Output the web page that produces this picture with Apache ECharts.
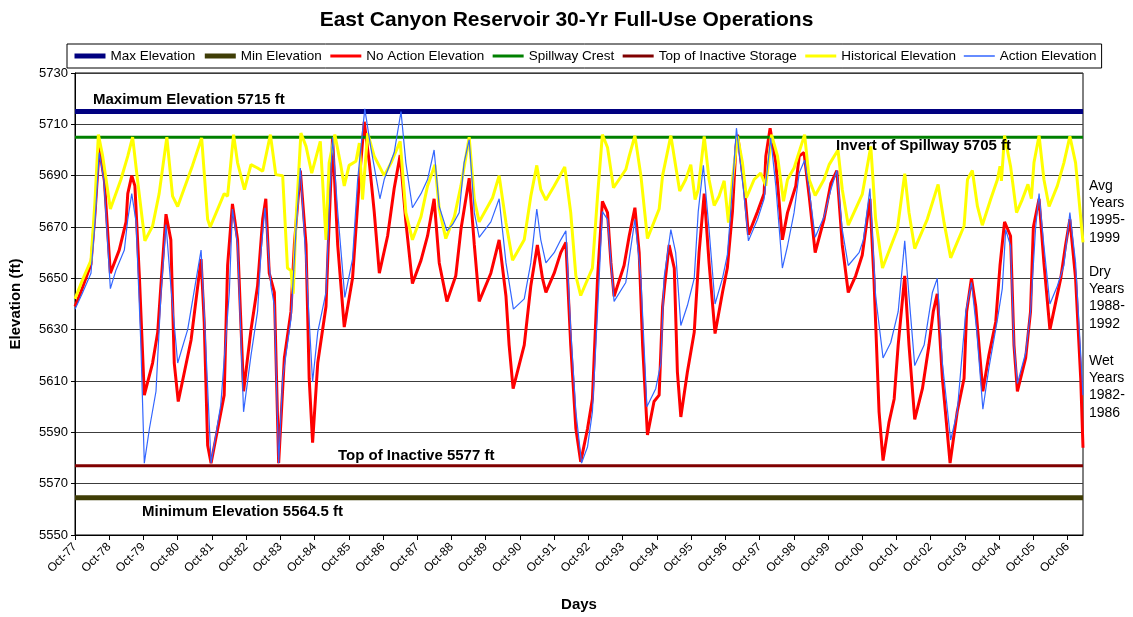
<!DOCTYPE html>
<html>
<head>
<meta charset="utf-8">
<script src="https://cdn.jsdelivr.net/npm/echarts@6/dist/echarts.min.js"></script>
<style>
  html, body { margin: 0; padding: 0; background: #fff; }
  #chart { width: 1133px; height: 617px; }
</style>
</head>
<body>
<div id="chart"></div>
<script>
// x values are months since Oct-77
const startYear = 77
const lastMonth = 353.4
const yearCount = 30

// reference levels (ft)
const maxElev = 5715
const minElev = 5564.5
const spillwayCrest = 5705
const inactiveTop = 5577

const noAction = [
  [0,5639],[2.5,5646],[5.6,5655.5],[7,5675],[8.5,5701],[10.3,5688],[12.4,5652],[15.5,5661],[17.9,5672],[18.5,5683],
  [19.9,5690],[21,5686],[22.6,5650],[24.3,5604.5],[27.2,5617],[29,5629],[30.1,5647],[31.9,5675],[33.6,5665],[34.8,5617],
  [36.2,5602],[40.7,5626],[44.2,5657.5],[45.3,5633],[46.5,5585],[47.7,5578],[52.3,5604.5],[53.5,5655],[55.2,5679],[57,5665],
  [59.1,5606],[61.7,5630],[64,5647],[65.8,5673],[66.9,5681],[68.1,5652],[69.9,5644.5],[71.4,5578],[73.4,5619],[75.7,5637],
  [76.9,5663],[79,5692],[81,5663],[82.1,5611],[83.3,5586],[85.1,5617],[88,5639],[88.8,5663],[90.3,5705],[92.1,5663],
  [94.4,5631],[97.3,5650],[99.7,5688.5],[101.4,5711],[103.2,5695],[104.9,5676],[106.7,5652],[109.6,5666.5],[111.9,5685],[114,5698],
  [116,5672],[118.3,5648],[121.3,5657],[123.6,5666.5],[125.9,5681],[127.7,5656],[130.4,5641],[133.5,5651],[135.3,5669],[138.2,5689],
  [140,5663],[141.7,5641],[145.8,5652],[148.7,5665],[151.1,5643],[152.2,5624],[153.6,5607],[157.5,5624],[159.8,5647],[162.1,5663],
  [163.9,5650],[165.1,5644.5],[168,5652],[170.3,5660],[172.1,5664],[173.8,5624],[175.6,5591.5],[177.3,5578.5],[179.7,5591.5],[181.4,5603],
  [183.2,5650],[184.9,5680],[186.7,5675.6],[187.9,5656],[189,5643],[192.5,5655],[194.3,5666.5],[196.3,5677.5],[197.8,5660],[199,5624],
  [200.7,5589],[203,5602],[204.8,5604.5],[206,5639],[206.8,5648],[208.3,5663],[210.1,5654],[211.2,5613.5],[212.4,5596],[214.7,5613.5],
  [217.1,5629],[218.8,5660],[220.6,5683],[222.3,5656],[224.4,5628.5],[227,5644.5],[228.7,5654],[230.5,5676],[231.7,5701],[232.3,5706],
  [234.6,5686],[236.1,5667],[239.3,5676],[241.6,5683],[242.2,5697.6],[243.7,5708.5],[245.7,5695],[248,5665],[249.8,5675.6],[252.7,5686],
  [253.9,5697.6],[255.6,5699],[257.4,5682],[259.5,5660],[262.6,5673],[265,5687],[267.1,5692],[269,5663],[271.1,5644.5],[273.7,5651],
  [276,5659],[278.7,5681],[280.1,5650],[281.9,5598],[283.3,5579],[285.4,5594],[287.2,5603],[288.6,5624],[290.9,5651],[292.4,5624],
  [294.4,5595],[297.1,5607],[299.4,5624],[300.9,5637],[302.3,5644],[304.1,5611],[306.8,5578],[309.3,5598],[311.7,5611],[312.6,5637],
  [314.3,5650],[315.8,5639],[318.3,5606],[320.4,5620],[322.8,5633],[324.3,5655],[325.9,5672],[328,5666.5],[329.2,5624],[330.4,5606],
  [333.3,5619],[335,5637],[336,5670],[338,5681],[339.7,5656],[341.8,5630],[345.6,5650],[347.3,5663],[348.8,5673],[350.8,5650],
  [352.6,5611],[353.4,5584]
]

const historical = [
  [0,5642],[2.5,5649],[5.6,5657],[7,5680],[8.2,5706],[9.7,5697.6],[12.4,5677],[16.1,5688.5],[18.5,5697.6],[20.2,5705],
  [21.9,5688.5],[24.5,5664.6],[27.2,5670.4],[29.5,5683],[32.2,5705],[34.2,5682],[36,5678],[41.2,5694],[44.4,5704.7],[46.5,5673],
  [47.4,5670],[52.3,5683],[53.5,5682],[55.6,5706],[57,5695],[59.4,5684.6],[61.7,5694.3],[64,5693],[65.8,5691.7],[68.5,5706],
  [70.4,5690.4],[72.8,5690],[74.5,5654],[75.7,5653],[76.5,5644],[77.5,5673],[79.2,5706.6],[81,5701.4],[83,5691],[86,5703.4],
  [88,5665],[89.1,5695],[91.1,5706],[93.2,5694],[94.4,5686],[96.1,5694],[98.5,5695.6],[99.7,5702.7],[100.8,5680.7],[102.6,5706.6],
  [104.9,5697.6],[108.4,5690],[110.8,5695],[114,5703.4],[116,5675.6],[118.3,5665],[121.3,5674],[123.6,5686],[126.2,5694.3],[127.7,5677],
  [130,5665.5],[133,5674],[135.3,5686],[138.2,5705],[140,5680.7],[141.7,5672],[146.4,5681.4],[148.7,5690],[151.1,5671.7],[153.4,5657],
  [157.5,5665],[159.8,5682],[161.9,5694],[163.3,5684.6],[165.1,5680.5],[168,5686],[171.7,5693.4],[173.8,5675.6],[175.6,5651],[177.3,5643.3],
  [181.4,5654],[183.2,5682],[184.9,5706],[186.7,5701],[188.8,5685.3],[193.1,5692.4],[194.3,5697.6],[196.3,5705.6],[198.4,5690],[200.7,5665.5],
  [204.8,5677],[206,5690],[208.9,5705.6],[210.6,5693.7],[212,5684],[214.1,5688.5],[215.9,5694.3],[217.4,5680.7],[218.5,5684.6],[220.6,5705.3],
  [222.3,5688.5],[224.1,5678.4],[225.8,5682],[227.6,5688],[229.1,5671.7],[230.5,5688.5],[232.3,5705.3],[234,5695],[235.4,5681.4],[238.1,5688.5],
  [240.4,5691],[242.2,5686],[244.2,5706],[246.3,5697.6],[248.4,5680],[249.8,5688.5],[252.1,5693],[255.8,5706],[257.4,5688.5],[259.5,5682.3],
  [262.6,5688.5],[264.4,5694.3],[267.5,5700],[269,5684.6],[271.1,5670.7],[276,5682.7],[279,5701.4],[280.7,5673],[283.1,5654],[288.3,5669],
  [290.9,5690.8],[292.4,5675.6],[294.4,5661.6],[298.8,5673],[302.6,5686.6],[304.7,5671.7],[307,5658],[311.7,5670.4],[312.9,5688.5],[314.6,5692],
  [316.4,5678],[318.1,5670.7],[321,5680.7],[323.4,5688.5],[324.3,5693.7],[324.8,5688],[325.9,5705.6],[328,5693.7],[330.1,5675.6],[332.1,5680.7],
  [334.1,5686.6],[335.3,5681],[336.2,5695],[338,5705.6],[339.7,5688.5],[341.5,5678],[344.4,5686],[346.7,5695],[348.8,5705.3],[350.8,5695],
  [353.4,5664]
]

const action = [
  [0,5638],[2.5,5644],[5.6,5652],[7,5672],[8.5,5699],[10.1,5688.5],[12.4,5646],[14.3,5653],[17.3,5661],[18.5,5673],
  [19.9,5683],[21.4,5672],[23.1,5624],[24.3,5578],[26.1,5591.5],[28.4,5606],[30.1,5643],[31.9,5671],[33.6,5647],[36,5617],
  [39.5,5630],[44.2,5661],[45.3,5637],[47.7,5578],[51.1,5600.6],[54.1,5644.5],[55.2,5677],[57,5663],[59.1,5598],[61.7,5620],
  [64,5637],[65.2,5660],[66.6,5677.5],[68.7,5647],[69.9,5639.4],[71.4,5578],[72.8,5611],[75.7,5634],[77.5,5669],[79,5693],
  [81,5656],[83.3,5609.6],[85.1,5629],[88,5644.5],[89.1,5676],[90.3,5705],[92.1,5676],[94.6,5642.6],[97.3,5657.5],[99.1,5688.5],
  [101.6,5716],[103.7,5701],[106.9,5681],[108.4,5688.5],[111.9,5699],[114.3,5715],[116,5695],[118.3,5677.5],[121.3,5683],[123.6,5688.5],
  [125.9,5700],[127.7,5678],[130.4,5668.5],[132.4,5671],[134.7,5675.6],[136.4,5695],[138.2,5704],[140,5675.6],[141.7,5666],[145.8,5672],
  [148.7,5681],[151.1,5656],[153.7,5638],[157.5,5642],[159.8,5656],[161.9,5677],[163.3,5665],[165.1,5656],[168,5660],[170.3,5665],
  [172.1,5668.5],[173.8,5630],[175.6,5598],[177.6,5578],[179.7,5584.4],[181.4,5598],[183.2,5637],[184.9,5676],[186.7,5673],[189,5641],
  [193.1,5648.4],[196.3,5673],[198.4,5650],[200.5,5600],[203.6,5607],[205.4,5617],[206.5,5650],[208.9,5669],[210.6,5660],[212.4,5631.6],
  [214.7,5639.4],[217.1,5650],[218.5,5676],[220.3,5694],[222.3,5669],[224.4,5640],[227,5650],[228.7,5659],[229.9,5676],[231.9,5708.5],
  [234.6,5682],[236.1,5664.6],[239.3,5673],[241.6,5681],[243.9,5704.7],[245.7,5686],[248,5654],[249.8,5662.6],[252.1,5675.6],[253.9,5691],
  [255.8,5696],[257.4,5684.6],[259.5,5666],[262.6,5674],[265,5684.6],[267.1,5692],[269,5669],[271.1,5655],[274.9,5660],[276.4,5665],
  [278.7,5685],[280.7,5643],[283.3,5619],[286,5625],[288.6,5637],[290.9,5664.6],[292.4,5643],[294.4,5616],[297.7,5624],[300.6,5644.5],
  [302.3,5650],[304.1,5617],[307,5587],[309.3,5598],[312.3,5637],[314.3,5648.4],[316.1,5630],[318.3,5599],[320.4,5615],[323.4,5634],
  [325.1,5646],[326.3,5669],[328,5662.6],[329.2,5624],[330.4,5609],[333.3,5621],[335,5637],[336.8,5670],[338,5683],[339.7,5662.6],
  [341.8,5640],[344.4,5647],[346.7,5655],[348.8,5675.6],[350.8,5656],[353.4,5604.5]
]

const FONT = '"Liberation Sans", Arial, sans-serif'

// name, data, colour, line width
const seriesDefs = [
  ['Max Elevation', [[0, maxElev], [lastMonth, maxElev]], '#000080', 5],
  ['Min Elevation', [[0, minElev], [lastMonth, minElev]], '#3f3d06', 5],
  ['No Action Elevation', noAction, '#ff0000', 3],
  ['Spillway Crest', [[0, spillwayCrest], [lastMonth, spillwayCrest]], '#008000', 3],
  ['Top of Inactive Storage', [[0, inactiveTop], [lastMonth, inactiveTop]], '#800000', 3],
  ['Historical Elevation', historical, '#ffff00', 3],
  ['Action Elevation', action, '#3366ff', 1.2]
]

function noteText(text, x, y) {
  return {
    type: 'text', x, y, z: 100,
    style: { text, fill: '#000', font: 'bold 15px ' + FONT, verticalAlign: 'middle' }
  }
}

function sideText(text, y) {
  return {
    type: 'text', x: 1089, y,
    style: { text, fill: '#000', font: '14px ' + FONT, lineHeight: 17.4 }
  }
}

const chart = echarts.init(document.getElementById('chart'))
chart.setOption({
  animation: false,
  title: {
    text: 'East Canyon Reservoir 30-Yr Full-Use Operations',
    left: 'center', top: 5,
    textStyle: { fontSize: 21, fontWeight: 'bold', color: '#000', fontFamily: FONT }
  },
  legend: {
    left: 67, top: 44,
    padding: [5, 5],
    itemWidth: 31, itemHeight: 14, itemGap: 7,
    borderColor: '#000', borderWidth: 1,
    itemStyle: { opacity: 0 },
    textStyle: { fontSize: 13.5, color: '#000', fontFamily: FONT },
    data: seriesDefs.map(([name, , color, width]) => ({
      name,
      lineStyle: { color, width: Math.max(width, 1.5) }
    }))
  },
  grid: { left: 74, right: 50, top: 73, bottom: 80, show: true, borderColor: '#000', borderWidth: 1 },
  xAxis: {
    type: 'value', min: 0, max: lastMonth, interval: 12,
    name: 'Days', nameLocation: 'middle', nameGap: 62,
    nameTextStyle: { fontSize: 15, fontWeight: 'bold', color: '#000', fontFamily: FONT },
    axisLine: { lineStyle: { color: '#000' } },
    axisTick: { show: true, length: 5, lineStyle: { color: '#000' } },
    splitLine: { show: false },
    axisLabel: {
      rotate: 45, fontSize: 12, color: '#000', fontFamily: FONT, margin: 10,
      showMaxLabel: false,
      formatter: v => {
        if (v % 12 !== 0 || v / 12 >= yearCount) return ''
        return 'Oct-' + String((startYear + v / 12) % 100).padStart(2, '0')
      }
    }
  },
  yAxis: {
    type: 'value', min: 5550, max: 5730, interval: 20,
    name: 'Elevation (ft)', nameLocation: 'middle', nameGap: 52,
    nameTextStyle: { fontSize: 15, fontWeight: 'bold', color: '#000', fontFamily: FONT },
    axisLine: { show: true, lineStyle: { color: '#000' } },
    axisTick: { show: true, length: 4, lineStyle: { color: '#000' } },
    axisLabel: { fontSize: 13, color: '#000', fontFamily: FONT, margin: 7, formatter: v => String(v) },
    splitLine: { lineStyle: { color: '#3c3c3c', width: 1 } }
  },
  series: seriesDefs.map(([name, data, color, width]) => ({
    name, type: 'line', data,
    symbol: 'none',
    lineStyle: { color, width },
    itemStyle: { color },
    emphasis: { disabled: true }
  })),
  graphic: [
    noteText('Maximum Elevation 5715 ft', 93, 100),
    noteText('Invert of Spillway 5705 ft', 836, 146),
    noteText('Top of Inactive 5577 ft', 338, 456),
    noteText('Minimum Elevation 5564.5 ft', 142, 512),
    sideText('Avg\nYears\n1995-\n1999', 177),
    sideText('Dry\nYears\n1988-\n1992', 263),
    sideText('Wet\nYears\n1982-\n1986', 352)
  ]
})
</script>
</body>
</html>
